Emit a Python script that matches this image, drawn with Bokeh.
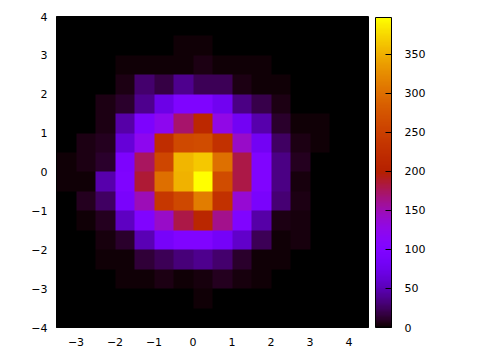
import math
import numpy as np
from bokeh.plotting import figure
from bokeh.models import LinearColorMapper, ColorBar, FixedTicker, Range1d
from bokeh.embed import file_html
from bokeh.resources import INLINE

# bin edges of the histogram grid
x_edges = [-3.5, 4.5]
y_edges = [-4.0, 4.0]

# counts per 0.5 x 0.5 bin, one row per y bin (top row y=3.5..4 first),
# columns from x=-3.5 to x=4.5
counts = [
    [0, 0, 0, 0, 0, 1, 0, 0, 0, 1, 0, 0, 0, 0, 0, 0],
    [0, 1, 0, 0, 1, 1, 2, 2, 0, 1, 0, 0, 0, 0, 0, 0],
    [0, 0, 1, 2, 3, 2, 3, 5, 2, 2, 2, 1, 0, 0, 0, 0],
    [0, 1, 1, 5, 28, 18, 38, 22, 22, 6, 3, 2, 1, 0, 0, 0],
    [1, 1, 5, 11, 38, 72, 98, 98, 78, 35, 20, 5, 1, 0, 0, 0],
    [1, 1, 5, 45, 95, 122, 172, 215, 128, 82, 48, 12, 2, 2, 1, 0],
    [1, 5, 8, 65, 122, 222, 262, 265, 228, 142, 82, 25, 6, 3, 0, 0],
    [2, 6, 12, 95, 175, 258, 355, 365, 302, 180, 100, 35, 8, 1, 1, 1],
    [2, 3, 48, 98, 185, 300, 352, 397, 265, 180, 100, 35, 4, 0, 1, 0],
    [1, 8, 25, 90, 148, 238, 260, 312, 228, 138, 90, 30, 6, 1, 1, 0],
    [1, 3, 8, 55, 100, 142, 180, 212, 162, 100, 45, 6, 4, 0, 1, 0],
    [1, 0, 4, 12, 50, 88, 100, 100, 85, 58, 22, 2, 4, 0, 0, 0],
    [0, 1, 3, 3, 14, 22, 32, 38, 28, 11, 3, 3, 0, 1, 0, 0],
    [0, 0, 1, 2, 3, 5, 2, 4, 9, 4, 2, 0, 0, 0, 0, 0],
    [0, 0, 0, 0, 0, 1, 0, 2, 1, 0, 0, 0, 0, 0, 0, 0],
    [0, 0, 0, 0, 0, 1, 1, 0, 0, 0, 0, 0, 0, 0, 0, 0],
]

x_ticks = [-3, -2, -1, 0, 1, 2, 3, 4]
y_ticks = [-4, -3, -2, -1, 0, 1, 2, 3, 4]
cb_ticks = [0, 50, 100, 150, 200, 250, 300, 350]

# gnuplot default palette (rgbformulae 7,5,15)
def gp_color(v):
    r = math.sqrt(v)
    g = v ** 3
    b = max(0.0, math.sin(2 * math.pi * v))
    return "#%02x%02x%02x" % (round(255 * r), round(255 * g), round(255 * b))

palette = [gp_color(i / 255) for i in range(256)]

grid = np.array(counts, dtype=float)[::-1]   # image rows go bottom -> top
vmax = float(grid.max())
mapper = LinearColorMapper(palette=palette, low=0, high=vmax)

p = figure(width=480, height=360, x_range=Range1d(x_edges[0], x_edges[1]),
           y_range=Range1d(y_edges[0], y_edges[1]),
           output_backend="svg", toolbar_location=None,
           min_border_left=56, min_border_right=112, min_border_top=16, min_border_bottom=33)
p.image(image=[grid], x=x_edges[0], y=y_edges[0], dw=x_edges[1] - x_edges[0],
        dh=y_edges[1] - y_edges[0], color_mapper=mapper)

p.grid.visible = False
p.outline_line_color = "black"
p.background_fill_color = "white"
p.border_fill_color = "white"

for ax, ticks in ((p.xaxis[0], x_ticks), (p.yaxis[0], y_ticks)):
    ax.ticker = FixedTicker(ticks=ticks)
    ax.major_tick_out = 0
    ax.major_tick_in = 0
    ax.minor_tick_out = 0
    ax.minor_tick_in = 0
    ax.axis_line_color = "black"
    ax.major_label_text_font = "DejaVu Sans"
    ax.major_label_text_font_size = "11px"
    ax.major_label_text_color = "black"
p.xaxis.major_label_standoff = 10
p.yaxis.major_label_standoff = 9

cb = ColorBar(color_mapper=mapper, ticker=FixedTicker(ticks=cb_ticks), width=16, height=310,
              padding=0, margin=0, location=(7, 0), bar_line_color="black",
              major_tick_line_color="black", major_tick_in=6, major_tick_out=0,
              label_standoff=13, major_label_text_font="DejaVu Sans",
              major_label_text_font_size="11px", major_label_text_color="black",
              background_fill_alpha=0, border_line_color=None)
p.add_layout(cb, "right")

open("out.html", "w").write(file_html(p, INLINE))
